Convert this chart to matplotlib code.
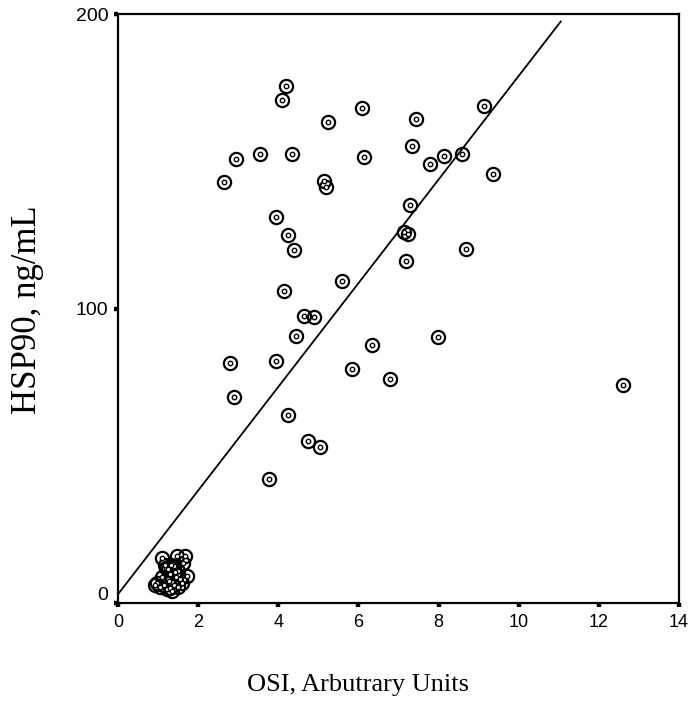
import matplotlib
import numpy as np

matplotlib.use("Agg")
import matplotlib.pyplot as plt
import matplotlib.transforms as mtransforms

# OSI vs HSP90 readings
osi = [
    4.19, 4.09, 6.09, 5.24, 7.43, 9.13, 7.34, 2.94, 3.54, 4.34,
    6.13, 8.13, 8.58, 7.78, 9.37, 2.65, 5.13, 5.18, 7.28, 3.94,
    4.24, 4.40, 7.14, 7.24, 8.68, 7.19, 5.59, 4.14, 4.64, 4.89,
    4.45, 6.34, 7.98, 2.80, 3.94, 5.84, 6.78, 2.89, 4.24, 4.73,
    5.04, 12.61, 3.77,
    # low cluster
    1.09, 1.46, 1.67, 1.62, 1.20, 1.30, 1.40, 1.50, 0.97, 1.05,
    1.15, 1.25, 1.35, 1.45, 1.55, 1.71, 1.59, 1.21, 1.30, 1.40,
    1.10, 1.25, 1.35, 1.50, 0.92, 1.18, 1.28, 1.42, 1.33,
]
hsp90 = [
    175.5, 170.9, 168.1, 163.5, 164.2, 168.9, 155.3, 150.7, 152.6, 152.6,
    151.3, 151.9, 152.6, 149.2, 145.8, 143.1, 143.2, 141.2, 135.0, 131.2,
    124.8, 120.0, 126.0, 125.4, 120.1, 116.0, 109.2, 105.8, 97.6, 97.0,
    90.8, 87.5, 90.2, 81.4, 82.1, 79.4, 75.9, 69.8, 63.8, 55.1,
    53.1, 74.0, 42.2,
    # low cluster
    15.4, 16.0, 16.0, 13.5, 12.0, 10.0, 12.5, 11.0, 6.9, 5.5,
    6.0, 8.0, 7.0, 9.0, 8.0, 9.2, 6.9, 4.8, 5.0, 6.0,
    9.0, 11.5, 4.2, 5.5, 6.2, 13.0, 7.5, 10.5, 13.0,
]

# fitted line as drawn in the reference
fit_intercept = 3.0
fit_slope = 17.6
fit_x_end = 11.05

x_ticks = [0, 2, 4, 6, 8, 10, 12, 14]
y_ticks = [0, 100, 200]

fig = plt.figure(figsize=(6.93, 7.26), dpi=100)
ax = fig.add_axes([0.1703, 0.1694, 0.8095, 0.8113])

ax.plot(osi, hsp90, linestyle="none", marker="o", markersize=9.5,
        markerfacecolor="none", markeredgecolor="black", markeredgewidth=1.6)
ax.plot(osi, hsp90, linestyle="none", marker="o", markersize=3.2,
        markerfacecolor="white", markeredgecolor="black", markeredgewidth=1.0)

fit_x = np.array([0.0, fit_x_end])
ax.plot(fit_x, fit_intercept + fit_slope * fit_x, color="black", linewidth=1.3)

ax.set_xlim(0, 14)
ax.set_ylim(0, 200)
ax.set_xticks(x_ticks)
ax.set_yticks(y_ticks)
ax.set_xticklabels([str(v) for v in x_ticks], fontfamily="Liberation Sans", fontsize=13)
ax.set_yticklabels([str(v) for v in y_ticks], fontfamily="Liberation Sans", fontsize=14)
ax.tick_params(axis="both", direction="out", length=3, width=3.2, color="black")
ax.tick_params(axis="x", pad=5)
ax.tick_params(axis="y", pad=4)

# the "0" on the y axis sits a little above its tick in the original
zero_label = ax.get_yticklabels()[0]
zero_label.set_transform(zero_label.get_transform()
                         + mtransforms.ScaledTranslation(0, 7 / 72, fig.dpi_scale_trans))

for spine in ax.spines.values():
    spine.set_linewidth(1.6)
    spine.set_color("black")

fig.text(358 / 693, 1 - 685 / 726, "OSI, Arbutrary Units", ha="center", va="center",
         fontfamily="Liberation Serif", fontsize=19)
fig.text(28 / 693, 1 - 310 / 726, "HSP90, ng/mL", ha="center", va="center", rotation=90,
         fontfamily="Liberation Serif", fontsize=25)

fig.savefig("out.png", dpi=100)
plt.close(fig)
